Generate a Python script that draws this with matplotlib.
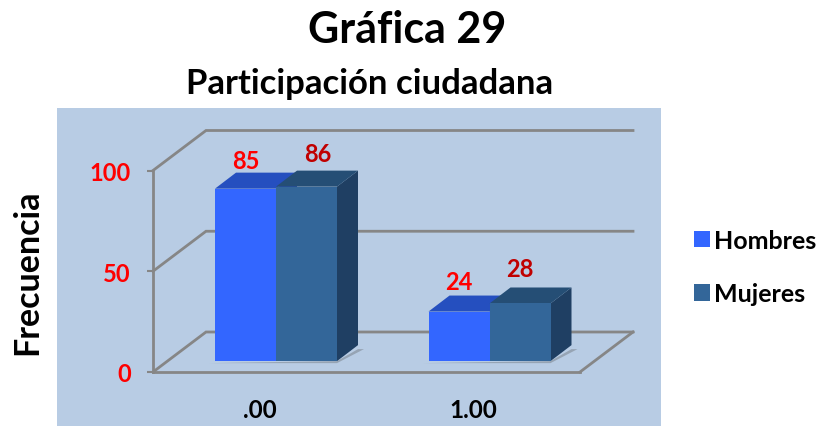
import matplotlib
matplotlib.use("Agg")
import matplotlib.pyplot as plt
from matplotlib.patches import Patch, Polygon, Rectangle
from matplotlib.transforms import ScaledTranslation

W, H = 819, 427

categories = [".00", "1.00"]
hombres = [85, 24]
mujeres = [86, 28]
series_names = ["Hombres", "Mujeres"]
y_ticks = [0, 50, 100]

FRONT = ["#3366FF", "#336699"]
TOP = ["#254FBF", "#254E75"]
SIDE = ["#2A50C0", "#1F3F63"]
LABEL_COL = ["#FF0000", "#C00000"]
GRID = "#868686"
PANEL = "#B8CCE4"

plt.rcParams["font.family"] = ["Lato", "DejaVu Sans"]
plt.rcParams["font.weight"] = "bold"

fig = plt.figure(figsize=(W / 100, H / 100), dpi=100, facecolor="white")

# panel behind everything
fig.add_artist(Rectangle((57 / W, 0), 604 / W, (H - 109) / H, transform=fig.transFigure,
                         facecolor=PANEL, edgecolor="none", zorder=-5))

# axes box = front floor edge of the 3d frame
left, right, y0, y100 = 153, 580, 373, 171.5
ax = fig.add_axes([left / W, (H - y0) / H, (right - left) / W, (y0 - y100) / H])
ax.patch.set_alpha(0)

step = 213.5  # px between categories
ax.set_xlim((left - 276) / step, (right - 276) / step)
ax.set_ylim(0, 100)
py = (y0 - y100) / 100.0


def ddx(px):
    return px / step


def ddy(px):
    return px / py


xl, xr = ax.get_xlim()
wall_dx, wall_dy = ddx(53), ddy(40)

# frame lines
for t in y_ticks:
    ax.plot([xl, xl + wall_dx, xr + wall_dx], [t, t + wall_dy, t + wall_dy], color=GRID, lw=2,
            clip_on=False, zorder=1, solid_joinstyle="miter")
ax.plot([xr, xr + wall_dx], [0, wall_dy], color=GRID, lw=2, clip_on=False, zorder=1)

bar_w = 61 / step
base = 6.0
foot = 5.4
dep_x, dep_y = ddx(21), ddy(16)
text_off = [[(0, 28), (11.5, 33)], [(0, 30), (0, 35)]]

for i, x0 in enumerate(range(len(categories))):
    # soft shadow on the floor
    sx0, sx1 = x0 - bar_w - ddx(6), x0 + bar_w
    ax.add_patch(Polygon([(sx0, foot - 1), (sx1, foot - 1), (sx1 + dep_x + ddx(6), foot + dep_y * 0.75),
                          (sx1 + dep_x, foot + dep_y * 0.75), (sx1, foot)],
                         facecolor="#8E9AA8", edgecolor="none", alpha=0.8, clip_on=False, zorder=2))
    for s, vals in enumerate([hombres, mujeres]):
        v = vals[i]
        xa = x0 - bar_w + s * bar_w
        xb = xa + bar_w
        top = base + v
        ax.add_patch(Polygon([(xb, foot), (xb + dep_x, foot + dep_y), (xb + dep_x, top + dep_y), (xb, top)],
                             facecolor=SIDE[s], edgecolor="none", clip_on=False, zorder=3 + s))
        ax.add_patch(Polygon([(xa, top), (xb, top), (xb + dep_x, top + dep_y), (xa + dep_x, top + dep_y)],
                             facecolor=TOP[s], edgecolor="none", clip_on=False, zorder=3 + s))
        ax.bar(xa + bar_w / 2, top - foot, bottom=foot, width=bar_w, color=FRONT[s], linewidth=0, zorder=3 + s)
        ax.annotate(str(v), (xa + bar_w / 2, top), xytext=text_off[i][s], textcoords="offset pixels",
                    ha="center", va="center", color=LABEL_COL[s], fontsize=17, fontweight="bold",
                    annotation_clip=False, zorder=8)

for side in ["top", "right"]:
    ax.spines[side].set_visible(False)
for side in ["left", "bottom"]:
    ax.spines[side].set_color(GRID)
    ax.spines[side].set_linewidth(2)

ax.set_yticks(y_ticks)
ax.set_yticklabels([str(t) for t in y_ticks], color="#FF0000", fontsize=17, fontweight="bold")
ax.tick_params(axis="y", length=4, width=1.5, color=GRID, pad=12)
ax.set_xticks(range(len(categories)))
ax.set_xticklabels(categories, color="black", fontsize=17.5, fontweight="bold")
ax.tick_params(axis="x", length=0, pad=19)
# x labels sit left of the bars' centre in the original
shift = ScaledTranslation(-16 / 100, 0, fig.dpi_scale_trans)
for lab in ax.get_xticklabels():
    lab.set_transform(lab.get_transform() + shift)

ax.set_ylabel("Frecuencia", fontsize=24.5, fontweight="bold", color="black", labelpad=0)
ax.yaxis.set_label_coords((43 - left) / (right - left), 0.5)

fig.text(407 / W, 1 - 30 / H, "Gráfica 29", ha="center", va="center", fontsize=31, fontweight="bold")
fig.text(370 / W, 1 - 84 / H, "Participación ciudadana", ha="center", va="center", fontsize=25,
         fontweight="bold")

handles = [Patch(facecolor=FRONT[0], label=series_names[0]), Patch(facecolor=FRONT[1], label=series_names[1])]
fig.legend(handles=handles, loc="center left", bbox_to_anchor=(694 / W, 1 - 268 / H), frameon=False,
           fontsize=18, handlelength=0.65, handleheight=0.65, handletextpad=0.15, labelspacing=1.22,
           borderpad=0, borderaxespad=0)

fig.savefig("out.png", dpi=100)
